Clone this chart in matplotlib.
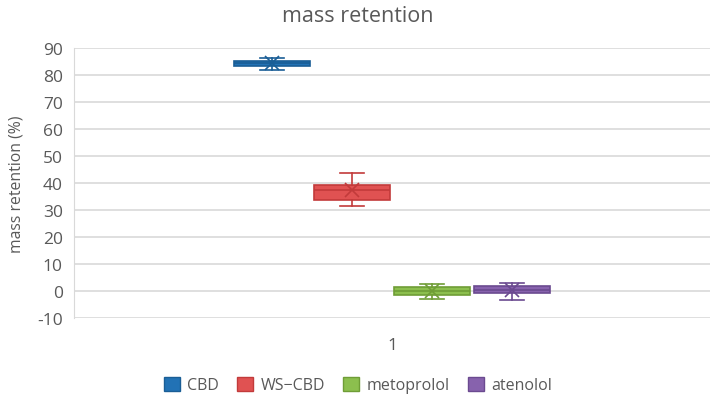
import matplotlib
matplotlib.use('Agg')
import matplotlib.pyplot as plt
from matplotlib.patches import Patch

plt.rcParams['font.family'] = ['Open Sans', 'DejaVu Sans']
plt.rcParams['axes.unicode_minus'] = False

# series (whisker low, q1, median, q3, whisker high, mean)
series = ['CBD', 'WS\u2212CBD', 'metoprolol', 'atenolol']
whis_lo = [81.9, 31.6, -3.0, -3.2]
q1 = [83.4, 33.7, -1.4, -0.9]
medians = [84.5, 37.4, 0.0, 0.4]
q3 = [85.1, 39.4, 1.4, 1.8]
whis_hi = [86.2, 43.6, 2.6, 3.1]
means = [84.4, 37.3, 0.0, 0.3]
category = ['1']
yticks = list(range(-10, 91, 10))

fill_colors = ['#2272B5', '#E05252', '#8CBF4E', '#8762AD']
edge_colors = ['#1A5E96', '#C23B3B', '#6F9D36', '#6B4A90']
text_gray = '#595959'

fig = plt.figure(figsize=(7.16, 4.02), dpi=100)
ax = fig.add_axes([74 / 716, 1 - 319 / 402, 636 / 716, 270 / 402])

positions = [-1.5, -0.5, 0.5, 1.5]
for i, name in enumerate(series):
    stats = [dict(label=name, whislo=whis_lo[i], q1=q1[i], med=medians[i],
                  q3=q3[i], whishi=whis_hi[i], mean=means[i], fliers=[])]
    ec = edge_colors[i]
    ax.bxp(stats, positions=[positions[i]], widths=0.95, capwidths=0.29,
           patch_artist=True, showmeans=True, manage_ticks=False,
           boxprops=dict(facecolor=fill_colors[i], edgecolor=ec, linewidth=1.2),
           medianprops=dict(color=ec, linewidth=1.2),
           whiskerprops=dict(color=ec, linewidth=1.2),
           capprops=dict(color=ec, linewidth=1.2),
           meanprops=dict(marker='x', markeredgecolor=ec, markersize=10,
                          markeredgewidth=1.2))

ax.set_xlim(-3.975, 3.975)
ax.set_ylim(-10, 90)
ax.set_yticks(yticks)
ax.set_xticks([0])
ax.set_xticklabels(category)
ax.tick_params(axis='both', length=0, colors=text_gray, labelsize=12.5)
ax.tick_params(axis='y', pad=8)
ax.tick_params(axis='x', pad=14)
ax.grid(axis='y', color='#D9D9D9', linewidth=1.2)
ax.set_axisbelow(True)
for side in ['top', 'right', 'bottom']:
    ax.spines[side].set_visible(False)
ax.spines['left'].set_color('#D9D9D9')

ax.set_ylabel('mass retention (%)', color=text_gray, fontsize=11.3, labelpad=9)
fig.text(0.5, 1 - 17 / 402, 'mass retention', ha='center', va='center',
         color=text_gray, fontsize=15.5)

handles = [Patch(facecolor=fill_colors[i], edgecolor=edge_colors[i], label=series[i])
           for i in range(len(series))]
fig.legend(handles=handles, loc='center', bbox_to_anchor=(0.5, 1 - 386 / 402),
           ncol=4, frameon=False, fontsize=11.5, labelcolor=text_gray,
           handlelength=1.0, handleheight=1.0, handletextpad=0.5, columnspacing=1.1)

fig.savefig('out.png', dpi=100)
